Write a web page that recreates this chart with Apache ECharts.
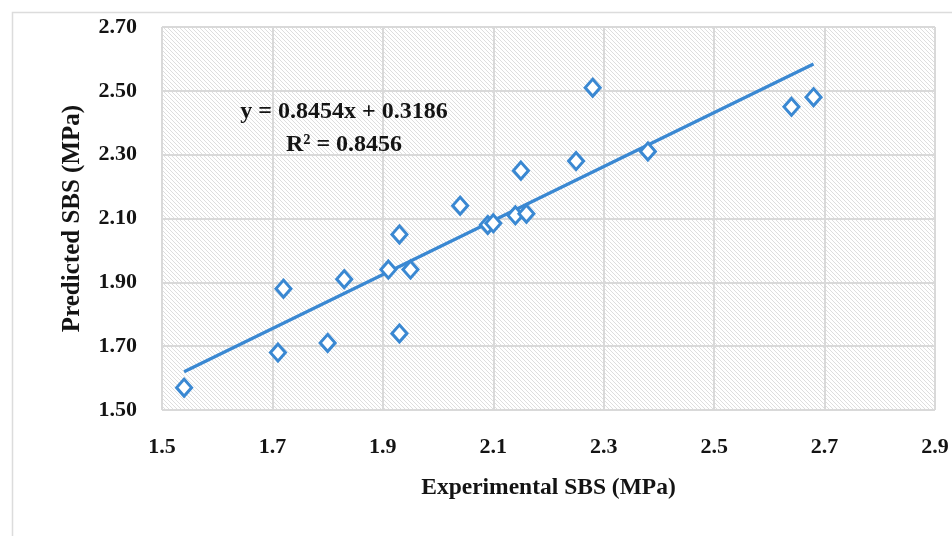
<!DOCTYPE html>
<html>
<head>
<meta charset="utf-8">
<script src="https://cdn.jsdelivr.net/npm/echarts@6/dist/echarts.min.js"></script>
<style>
html,body{margin:0;padding:0;background:#fff;}
#chart{width:952px;height:536px;}
</style>
</head>
<body>
<div id="chart"></div>
<script>
// ---- data ----
const experimental = [1.54, 1.71, 1.72, 1.80, 1.83, 1.91, 1.93, 1.93, 1.95, 2.04, 2.09, 2.10, 2.14, 2.16, 2.15, 2.25, 2.28, 2.38, 2.64, 2.68];
const predicted    = [1.57, 1.68, 1.88, 1.71, 1.91, 1.94, 2.05, 1.74, 1.94, 2.14, 2.08, 2.085, 2.11, 2.115, 2.25, 2.28, 2.51, 2.31, 2.45, 2.48];
const trendX = [1.54, 2.68];
const trendY = [1.62, 2.584];
const xTicks = [1.5, 1.7, 1.9, 2.1, 2.3, 2.5, 2.7, 2.9];
const yTicks = [1.5, 1.7, 1.9, 2.1, 2.3, 2.5, 2.7];
const equationText = 'y = 0.8454x + 0.3186';
const r2Text = 'R² = 0.8456';
const xTitle = 'Experimental SBS (MPa)';
const yTitle = 'Predicted SBS (MPa)';

// ---- hatch pattern ----
const hatch = document.createElement('canvas');
hatch.width = 4; hatch.height = 4;
(function(){
  const c = hatch.getContext('2d');
  c.fillStyle = '#ffffff';
  c.fillRect(0,0,4,4);
  c.strokeStyle = '#dedede';
  c.lineWidth = 1;
  c.beginPath();
  c.moveTo(-1,-1); c.lineTo(5,5);
  c.moveTo(-1,3); c.lineTo(1,5);
  c.moveTo(3,-1); c.lineTo(5,1);
  c.stroke();
})();

const FONT = '"Palatino Linotype","Book Antiqua",Palatino,"Liberation Serif","DejaVu Serif",serif';
const BLUE = '#3a88d2';
const TXT = '#141414';

const chart = echarts.init(document.getElementById('chart'), null, {renderer:'canvas'});
chart.setOption({
  animation: false,
  backgroundColor: '#ffffff',
  grid: {
    left: 162, top: 27, right: 17, bottom: 126,
    show: true,
    borderWidth: 0,
    backgroundColor: {image: hatch, repeat: 'repeat'}
  },
  graphic: [
    {type:'rect', left:10, top:10, shape:{width:1000, height:600}, style:{fill:'none', stroke:'#dcdcdc', lineWidth:1.5}, silent:true, z:-10},
    {type:'text', x:344, y:112, style:{text:equationText, font:'bold 24px ' + FONT, fill:TXT, textAlign:'center', textVerticalAlign:'middle'}, z:10},
    {type:'text', x:344, y:145, style:{text:r2Text, font:'bold 24px ' + FONT, fill:TXT, textAlign:'center', textVerticalAlign:'middle'}, z:10}
  ],
  xAxis: {
    type: 'value',
    min: 1.5, max: 2.9,
    name: xTitle,
    nameLocation: 'middle',
    nameGap: 66,
    nameTextStyle: {fontFamily: FONT, fontWeight: 'bold', fontSize: 23.5, color: TXT},
    axisLine: {show: false},
    axisTick: {show: false, customValues: xTicks},
    axisLabel: {customValues: xTicks, margin: 26, fontFamily: FONT, fontWeight: 'bold', fontSize: 22, color: TXT,
      formatter: v => v.toFixed(1)},
    splitLine: {show: true, lineStyle: {color: '#d9d9d9', width: 2}}
  },
  yAxis: {
    type: 'value',
    min: 1.5, max: 2.7,
    name: yTitle,
    nameLocation: 'middle',
    nameRotate: 90,
    nameGap: 77,
    nameTextStyle: {fontFamily: FONT, fontWeight: 'bold', fontSize: 25, color: TXT},
    axisLine: {show: false},
    axisTick: {show: false, customValues: yTicks},
    axisLabel: {customValues: yTicks, margin: 25, fontFamily: FONT, fontWeight: 'bold', fontSize: 22, color: TXT,
      formatter: v => v.toFixed(2)},
    splitLine: {show: true, lineStyle: {color: '#d9d9d9', width: 2}}
  },
  series: [
    {
      type: 'line',
      data: trendX.map((x, i) => [x, trendY[i]]),
      showSymbol: false,
      symbol: 'none',
      lineStyle: {color: BLUE, width: 3.2},
      z: 2
    },
    {
      type: 'scatter',
      data: experimental.map((x, i) => [x, predicted[i]]),
      symbol: 'diamond',
      symbolSize: [15, 17],
      itemStyle: {color: '#ffffff', borderColor: BLUE, borderWidth: 3, opacity: 1},
      z: 3
    }
  ]
});
</script>
</body>
</html>
